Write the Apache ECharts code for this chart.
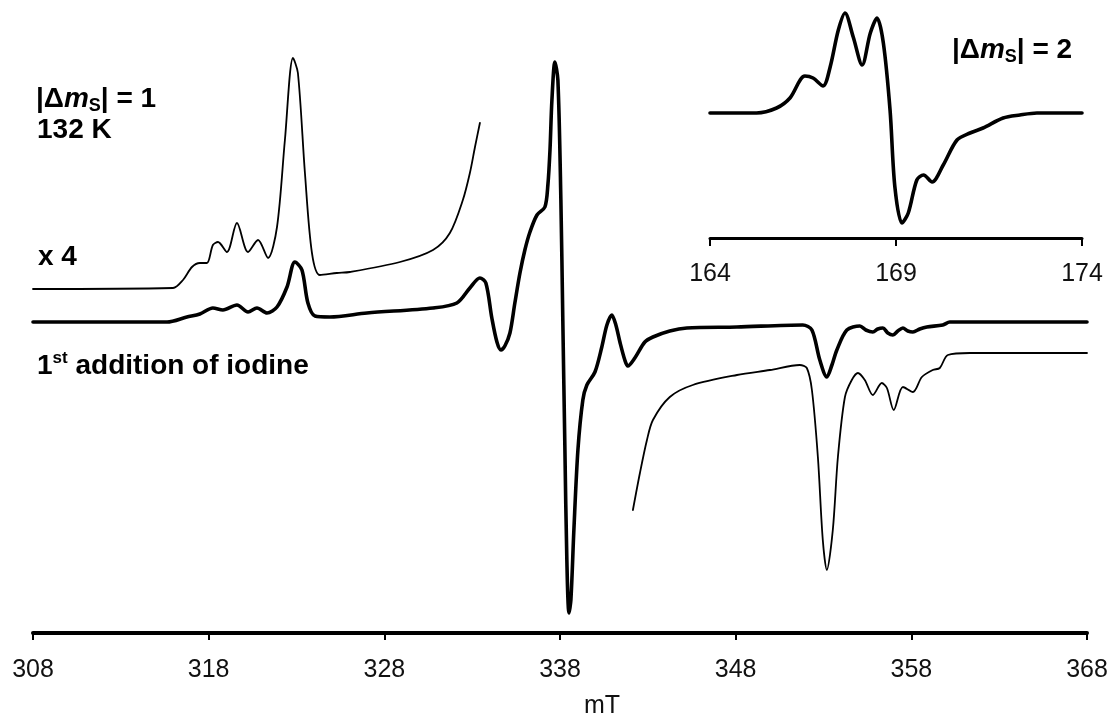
<!DOCTYPE html>
<html>
<head>
<meta charset="utf-8">
<script src="https://cdn.jsdelivr.net/npm/echarts@6/dist/echarts.min.js"></script>
<style>
  html, body { margin: 0; padding: 0; background: #fff; }
  #chart { width: 1111px; height: 719px; }
</style>
</head>
<body>
<div id="chart"></div>
<script>
// EPR spectrum after the 1st addition of iodine (132 K):
// |Δm_S| = 1 region with a ×4 trace of its wings, and the half-field |Δm_S| = 2 line.

const fieldTicks = [308, 318, 328, 338, 348, 358, 368];      // mT
const halfFieldTicks = [164, 169, 174];                        // mT

// full spectrum (arbitrary intensity units, baseline = 0)
const mainField = [308.00, 315.63, 316.76, 317.50, 318.24, 318.81, 319.61, 320.24, 320.75, 321.32,
  321.89, 322.46, 322.91, 323.31, 323.65, 324.05, 324.90, 327.01, 330.77, 332.13,
  332.87, 333.44, 333.78, 334.12, 334.41, 334.64, 334.86, 335.15, 335.43, 335.72,
  336.00, 336.29, 336.69, 337.14, 337.31, 337.43, 337.54, 337.71, 337.88, 338.05,
  338.16, 338.28, 338.39, 338.51, 338.62, 338.79, 339.02, 339.30, 339.53, 339.99,
  340.38, 340.67, 340.95, 341.18, 341.41, 341.69, 341.86, 342.26, 342.83, 343.29,
  344.25, 345.22, 348.07, 351.82, 352.34, 352.79, 353.19, 353.48, 353.76, 354.33,
  355.07, 355.41, 355.81, 356.09, 356.38, 356.66, 356.95, 357.23, 357.52, 357.80,
  358.09, 358.48, 358.88, 359.79, 360.19, 368.00];
const mainSignal = [0, 0, 5, 8, 14, 12, 17, 10, 14, 9,
  15, 35, 60, 52, 19, 6, 5, 9, 14, 19,
  34, 44, 39, 4, -20, -28, -24, -11, 19, 49,
  72, 90, 107, 115, 137, 172, 222, 260, 242, 122,
  2, -128, -238, -291, -278, -208, -128, -78, -63, -50,
  -25, -3, 7, -3, -20, -38, -44, -36, -20, -15,
  -9, -6, -5, -3, -8, -38, -55, -43, -28, -8,
  -4, -8, -10, -7, -6, -11, -13, -9, -6, -9,
  -10, -7, -5, -3, 0, 0];

// ×4 trace, low-field wing (offset upward)
const x4LowField = [308.00, 315.97, 316.54, 317.05, 317.50, 317.90, 318.24, 318.53, 319.04, 319.61,
  320.24, 320.81, 321.38, 321.89, 322.34, 322.80, 323.08, 323.48, 323.88, 324.33,
  325.30, 326.04, 328.89, 330.77, 331.73, 332.47, 332.87, 333.16, 333.44];
const x4LowSignal = [33, 34, 42, 55, 59, 59, 77, 80, 70, 99,
  70, 82, 64, 95, 182, 264, 249, 149, 69, 47,
  49, 50, 60, 72, 89, 122, 149, 175, 199];

// ×4 trace, high-field wing (offset downward)
const x4HighField = [342.15, 342.55, 342.95, 343.29, 344.25, 345.56, 348.07, 349.95, 351.65, 352.05,
  352.34, 352.68, 352.96, 353.19, 353.53, 353.82, 354.22, 354.61, 354.96, 355.35,
  355.81, 356.32, 356.61, 357.00, 357.52, 358.09, 358.60, 359.22, 359.62, 360.08,
  361.33, 368.00];
const x4HighSignal = [-188, -151, -118, -98, -75, -63, -53, -48, -43, -46,
  -68, -135, -218, -248, -208, -135, -75, -58, -51, -58,
  -73, -61, -66, -88, -65, -70, -55, -48, -46, -33,
  -31, -31];

// half-field |Δm_S| = 2 transition
const halfField = [164.00, 165.25, 165.79, 166.15, 166.55, 166.77, 167.04, 167.23, 167.45, 167.63,
  167.85, 168.09, 168.31, 168.49, 168.66, 168.84, 168.97, 169.16, 169.33, 169.56,
  169.74, 169.97, 170.27, 170.64, 170.99, 171.34, 171.88, 172.33, 172.79, 174.00];
const halfSignal = [0, 0, 5, 15, 37, 35, 27, 46, 83, 100,
  76, 48, 80, 95, 70, 3, -74, -110, -100, -67,
  -62, -69, -52, -27, -20, -15, -5, -2, 0, 0];

const zip = (xs, ys) => xs.map((x, i) => [x, ys[i]]);
const FONT = '"Liberation Sans", Arial, Helvetica, sans-serif';
const INK = '#000';

function fieldAxis(gridIndex, ticks, opts) {
  return Object.assign({
    type: 'value',
    gridIndex: gridIndex,
    min: ticks[0],
    max: ticks[ticks.length - 1],
    interval: ticks[1] - ticks[0],
    splitLine: { show: false },
    axisLine: { show: true, onZero: false, lineStyle: { color: INK, width: 4 } },
    axisTick: { show: true, inside: false, length: 7, lineStyle: { color: INK, width: 2 } },
    axisLabel: { color: '#111', fontFamily: FONT, fontSize: 25, margin: 25,
      formatter: v => String(v) }
  }, opts || {});
}

function hiddenAxis(gridIndex, min, max) {
  return { type: 'value', gridIndex: gridIndex, min: min, max: max, show: false,
    splitLine: { show: false } };
}

function trace(name, x, y, xi, width) {
  return {
    name: name, type: 'line', xAxisIndex: xi, yAxisIndex: xi,
    data: zip(x, y), showSymbol: false, smooth: 0.3,
    lineStyle: { color: INK, width: width, join: 'round', cap: 'round' }, silent: true, z: 3
  };
}

const labelBase = { fontFamily: FONT, fontSize: 28, fontWeight: 'bold', fill: INK, lineHeight: 32 };
const richParts = {
  m: { fontFamily: FONT, fontSize: 28, fontWeight: 'bold', fontStyle: 'italic', fill: INK, lineHeight: 32 },
  s: { fontFamily: FONT, fontSize: 18, fontWeight: 'bold', fill: INK, lineHeight: 15, verticalAlign: 'bottom' },
  sup: { fontFamily: FONT, fontSize: 17, fontWeight: 'bold', fill: INK, lineHeight: 17, verticalAlign: 'top' }
};
function label(text, left, top) {
  return { type: 'text', left: left, top: top, z: 10,
    style: Object.assign({ text: text, rich: richParts }, labelBase) };
}

const chart = echarts.init(document.getElementById('chart'), null, { renderer: 'canvas' });
chart.setOption({
  animation: false,
  backgroundColor: '#fff',
  grid: [
    { left: 33, right: 24, top: 42, bottom: 86, outerBoundsMode: 'none', containLabel: false },
    { left: 710, right: 29, top: 8, bottom: 481, outerBoundsMode: 'none', containLabel: false }
  ],
  xAxis: [
    fieldAxis(0, fieldTicks, {
      name: 'mT', nameLocation: 'middle', nameGap: 61,
      nameTextStyle: { color: '#111', fontFamily: FONT, fontSize: 25, padding: [0, 0, 0, 84] }
    }),
    fieldAxis(1, halfFieldTicks, {
      axisLine: { show: true, onZero: false, lineStyle: { color: INK, width: 3 } },
      axisTick: { show: true, inside: false, length: 8, lineStyle: { color: INK, width: 2 } },
      axisLabel: { color: '#111', fontFamily: FONT, fontSize: 25, margin: 24,
        formatter: v => String(v) }
    })
  ],
  yAxis: [hiddenAxis(0, -311, 280), hiddenAxis(1, -125, 105)],
  series: [
    trace('spectrum', mainField, mainSignal, 0, 3.6),
    trace('×4 low field', x4LowField, x4LowSignal, 0, 1.8),
    trace('×4 high field', x4HighField, x4HighSignal, 0, 1.8),
    trace('|Δm_S| = 2', halfField, halfSignal, 1, 3.6)
  ],
  graphic: [
    label('|Δ{m|m}{s|S}| = 1', 36, 83),
    label('132 K', 37, 114),
    label('x 4', 38, 241),
    label('1{sup|st} addition of iodine', 37, 350),
    label('|Δ{m|m}{s|S}| = 2', 952, 34)
  ]
});
</script>
</body>
</html>
